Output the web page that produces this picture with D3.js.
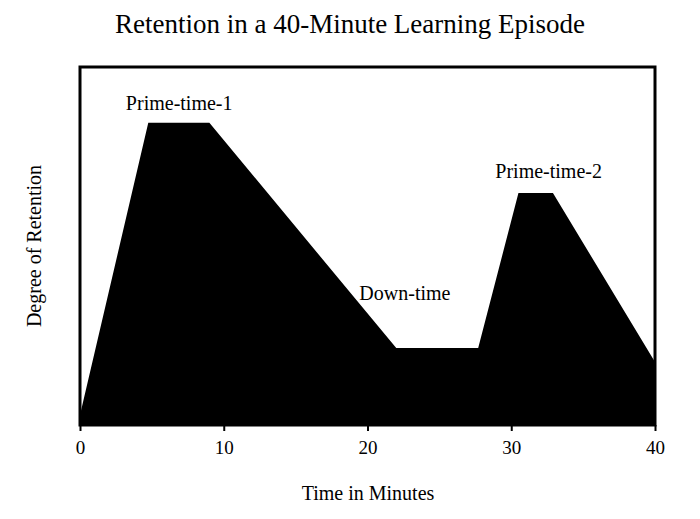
<!DOCTYPE html>
<html><head><meta charset="utf-8">
<script src="https://cdn.jsdelivr.net/npm/d3@7"></script>
<style>body{margin:0;background:#fff}text{font-family:"Liberation Serif","Times New Roman",serif}</style>
</head><body><svg id="c" width="700" height="519"></svg>
<script>
const minutes = [0, 4.75, 9, 22, 27.7, 30.5, 32.9, 40];
const retention = [2.8, 84.4, 84.4, 21.5, 21.5, 64.8, 64.8, 17.6];
const xTicks = [0, 10, 20, 30, 40];
const annotations = [
  {label: "Prime-time-1", x: 6.9, y: 88},
  {label: "Down-time", x: 22.6, y: 35},
  {label: "Prime-time-2", x: 32.6, y: 69}
];
const svg = d3.select("#c");
const L=80,R=655,T=67,B=425;
const x = d3.scaleLinear().domain([0,40]).range([L,R]);
const y = d3.scaleLinear().domain([0,100]).range([B,T]);
const pts = minutes.map((m,i)=>[m,retention[i]]);
const area = d3.area().x(d=>x(d[0])).y0(y(0)).y1(d=>y(d[1]));
svg.append("path").datum(pts).attr("d",area).attr("fill","#000");
svg.append("rect").attr("x",L).attr("y",T).attr("width",R-L).attr("height",B-T)
  .attr("fill","none").attr("stroke","#000").attr("stroke-width",3);
const ax = svg.append("g").attr("transform",`translate(0,${B})`)
  .call(d3.axisBottom(x).tickValues(xTicks).tickSize(6).tickPadding(10));
ax.select(".domain").remove();
ax.selectAll("line").attr("stroke-width",2);
ax.selectAll("text").style("font-size","19px").style("font-family","Liberation Serif");
svg.append("text").attr("x",350).attr("y",33).attr("text-anchor","middle").style("font-size","27px").text("Retention in a 40-Minute Learning Episode");
svg.append("text").attr("x",368).attr("y",500).attr("text-anchor","middle").style("font-size","20px").text("Time in Minutes");
svg.append("text").attr("transform",`translate(41,${(T+B)/2}) rotate(-90)`).attr("text-anchor","middle").style("font-size","20px").text("Degree of Retention");
svg.selectAll(".ann").data(annotations).enter().append("text")
  .attr("x",d=>x(d.x)).attr("y",d=>y(d.y)).attr("text-anchor","middle").style("font-size","20px").text(d=>d.label);
</script></body></html>
